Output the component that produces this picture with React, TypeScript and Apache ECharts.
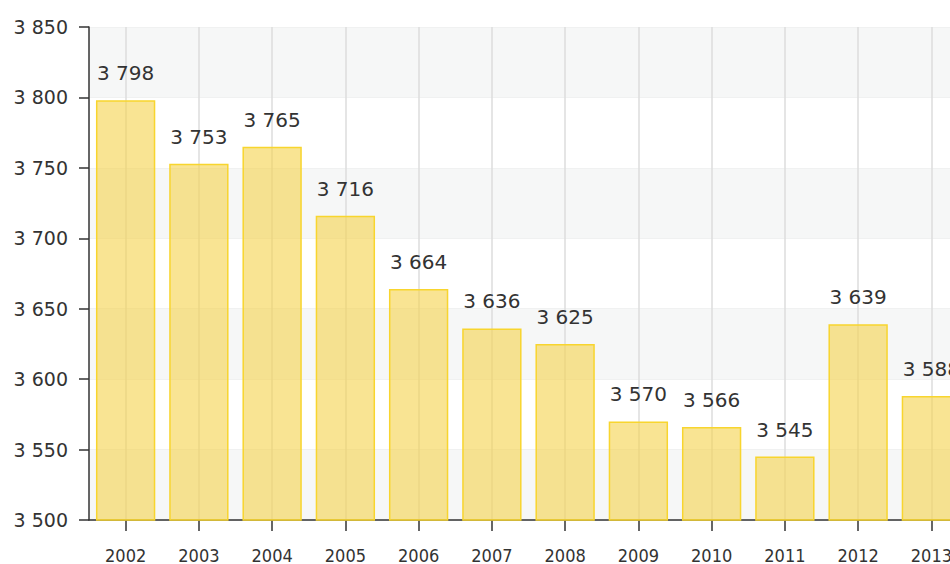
import React, { useEffect, useRef } from "react";
import * as echarts from "echarts";

const years = ["2002", "2003", "2004", "2005", "2006", "2007", "2008", "2009", "2010", "2011", "2012", "2013"];
const values = [3798, 3753, 3765, 3716, 3664, 3636, 3625, 3570, 3566, 3545, 3639, 3588];
const yMin = 3500;
const yMax = 3850;
const yStep = 50;

const fmt = (v: number) => String(v).replace(/\B(?=(\d{3})+(?!\d))/g, " ");

export default function App() {
  const ref = useRef<HTMLDivElement>(null);
  useEffect(() => {
    if (!ref.current) return;
    const chart = echarts.init(ref.current, undefined, { renderer: "svg" });
    chart.setOption({
      animation: false,
      grid: { left: 89, right: 0, top: 27, bottom: 44, containLabel: false },
      xAxis: {
        type: "category",
        data: years,
        axisLine: { show: true, lineStyle: { color: "#333", width: 1.5 } },
        axisTick: { show: true, alignWithLabel: true, length: 11, lineStyle: { color: "#333", width: 1.5 } },
        axisLabel: { color: "#333", fontFamily: "DejaVu Sans Condensed", fontSize: 18, margin: 26 },
        splitLine: { show: true, alignWithLabel: true, lineStyle: { color: "#dcdcdc", width: 1.5 } },
      },
      yAxis: {
        type: "value",
        min: yMin,
        max: yMax,
        interval: yStep,
        axisLine: { show: true, lineStyle: { color: "#333", width: 1.5 } },
        axisTick: { show: true, length: 10, lineStyle: { color: "#333", width: 1.5 } },
        axisLabel: { color: "#333", fontFamily: "DejaVu Sans", fontSize: 19, margin: 21, formatter: (v: number) => fmt(v) },
        splitLine: { show: true, lineStyle: { color: "#f0f1f1", width: 1 } },
        splitArea: { show: true, areaStyle: { color: ["#f6f7f7", "#ffffff"] } },
      },
      series: [
        {
          type: "bar",
          data: values,
          barCategoryGap: "19%",
          itemStyle: { color: "rgba(245,210,75,0.6)", borderColor: "#f8d52e", borderWidth: 1.5 },
          label: {
            show: true,
            position: "top",
            distance: 17,
            color: "#333",
            fontFamily: "DejaVu Sans",
            fontSize: 20,
            formatter: (p: any) => fmt(p.value),
          },
        },
      ],
    });
    return () => chart.dispose();
  }, []);
  return (
    <div style={{ position: "absolute", left: 0, top: 0, width: 950, height: 564, overflow: "hidden" }}>
      <div ref={ref} style={{ width: 968, height: 564 }} />
    </div>
  );
}
